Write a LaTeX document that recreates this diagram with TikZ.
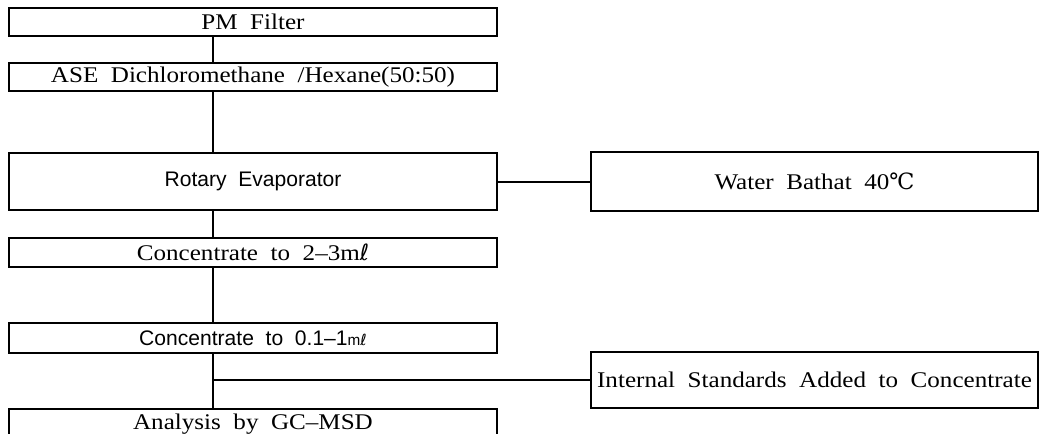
\documentclass[tikz,border=0pt]{standalone}
\usepackage{fontspec}
\setmainfont[FakeStretch=1.12]{Liberation Serif}
\newfontfamily\sansf{Liberation Sans}
\newfontfamily\symf{DejaVu Sans}
\newfontfamily\symserif{DejaVu Serif}
\begin{document}
\begin{tikzpicture}[x=0.75pt,y=-0.75pt,
  box/.style={draw, line width=1.5pt, inner sep=0pt, minimum width=366pt, font=\fontsize{16.8}{18}\selectfont},
  rbox/.style={draw, line width=1.5pt, inner sep=0pt, minimum width=335.25pt, font=\fontsize{16.8}{18}\selectfont},
  sanstext/.style={font=\sansf\fontsize{15.8}{17}\selectfont},
  link/.style={line width=1.5pt}]
\useasboundingbox (0,0) rectangle (1040,433);
\coordinate (spine) at (213,0);
\node[box, minimum height=21pt] (pm) at (253,22) {PM\ \ Filter};
\node[box, minimum height=21pt] (ase) at (253,77) {ASE\ \ Dichloromethane\ \ /Hexane(50:50)};
\node[box, sanstext, minimum height=42.75pt] (rot) at (253,181.5) {Rotary\ \ Evaporator};
\node[box, minimum height=21.75pt] (c1) at (253,252.5) {Concentrate\ \ to\ \ 2–3m{\symf ℓ}};
\node[box, sanstext, minimum height=22.5pt] (c2) at (253,338) {Concentrate\ \ to\ \ 0.1–1{\fontsize{11.5}{12}\selectfont m{\symf ℓ}}};
\node[box, minimum height=22.5pt] (ana) at (253,424) {Analysis\ \ by\ \ GC–MSD};
\node[rbox, minimum height=44.25pt] (wat) at (814.5,181.5) {Water\ \ Bathat\ \ 40{\symserif ℃}};
\node[rbox, minimum height=42pt] (int) at (814.5,380) {Internal\ \ Standards\ \ Added\ \ to\ \ Concentrate};
\coordinate (branch) at (213,380);
\draw[link] (pm.south -| spine) -- (ase.north -| spine);
\draw[link] (ase.south -| spine) -- (rot.north -| spine);
\draw[link] (rot.south -| spine) -- (c1.north -| spine);
\draw[link] (c1.south -| spine) -- (c2.north -| spine);
\draw[link] (c2.south -| spine) -- (ana.north -| spine);
\draw[link] (rot.east) -- (wat.west);
\draw[link] (branch) -- (int.west);
\end{tikzpicture}
\end{document}
